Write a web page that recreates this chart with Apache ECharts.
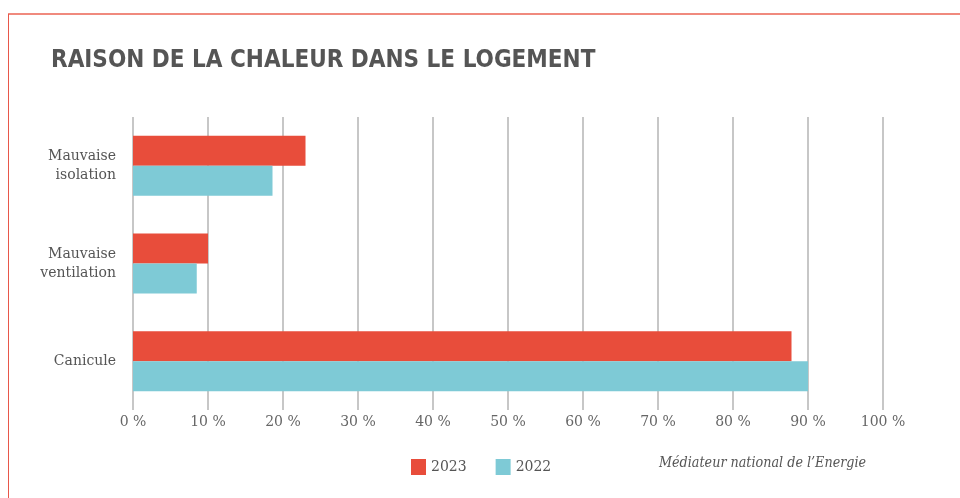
<!DOCTYPE html>
<html>
<head>
<meta charset="utf-8">
<script src="https://cdn.jsdelivr.net/npm/echarts@6/dist/echarts.min.js"></script>
<style>
    html, body { margin: 0; padding: 0; background: #fff; }
    #chart { width: 960px; height: 498px; }
</style>
</head>
<body>
<div id="chart"></div>
<script>
// raisons de la chaleur, en %
const categories = ["Mauvaise\nisolation", "Mauvaise\nventilation", "Canicule"];
const values2023 = [23, 10, 87.8];
const values2022 = [18.6, 8.5, 90];
const xTicks = { min: 0, max: 100, interval: 10 };

const chart = echarts.init(document.getElementById("chart"));

chart.setOption({
    animation: false,
    title: {
        text: "RAISON DE LA CHALEUR DANS LE LOGEMENT",
        left: 46,
        top: 44,
        textStyle: {
            fontFamily: "Liberation Sans Narrow, DejaVu Sans Condensed, sans-serif",
            fontWeight: "bold",
            fontSize: 24,
            color: "#555555",
        },
    },
    legend: {
        left: 406,
        top: 454,
        itemWidth: 15,
        itemHeight: 16,
        itemGap: 29,
        icon: "rect",
        textStyle: {
            fontFamily: "DejaVu Serif, serif",
            fontSize: 14,
            color: "#555555",
        },
        data: ["2023", "2022"],
    },
    grid: {
        left: 133,
        right: 77,
        top: 117,
        bottom: 88,
    },
    xAxis: {
        type: "value",
        min: xTicks.min,
        max: xTicks.max,
        interval: xTicks.interval,
        axisLine: { show: false },
        axisTick: { show: false },
        splitLine: {
            show: true,
            lineStyle: { color: "#b5b5b5", width: 1.5 },
        },
        axisLabel: {
            formatter: "{value} %",
            margin: 5,
            fontFamily: "DejaVu Serif, serif",
            fontSize: 14,
            color: "#666666",
        },
    },
    yAxis: {
        type: "category",
        inverse: true,
        data: categories,
        axisLine: { show: false },
        axisTick: { show: false },
        axisLabel: {
            margin: 17,
            fontFamily: "DejaVu Serif, serif",
            fontSize: 14,
            lineHeight: 19,
            color: "#555555",
            align: "right",
        },
    },
    series: [
        {
            name: "2023",
            type: "bar",
            data: values2023,
            barWidth: 30,
            barGap: "0%",
            itemStyle: { color: "#e84d3b" },
        },
        {
            name: "2022",
            type: "bar",
            data: values2022,
            barWidth: 30,
            itemStyle: { color: "#7ecad6" },
        },
    ],
    graphic: [
        {
            type: "line",
            shape: { x1: 8, y1: 14, x2: 960, y2: 14 },
            style: { stroke: "#f08a7e", lineWidth: 2 },
        },
        {
            type: "line",
            shape: { x1: 8.5, y1: 14, x2: 8.5, y2: 498 },
            style: { stroke: "#e8574a", lineWidth: 1 },
        },
        {
            type: "text",
            left: 659,
            top: 456,
            style: {
                text: "Médiateur national de l’Energie",
                font: "italic 14.2px 'DejaVu Serif Condensed', 'DejaVu Serif', serif",
                fill: "#555555",
            },
        },
    ],
});
</script>
</body>
</html>
